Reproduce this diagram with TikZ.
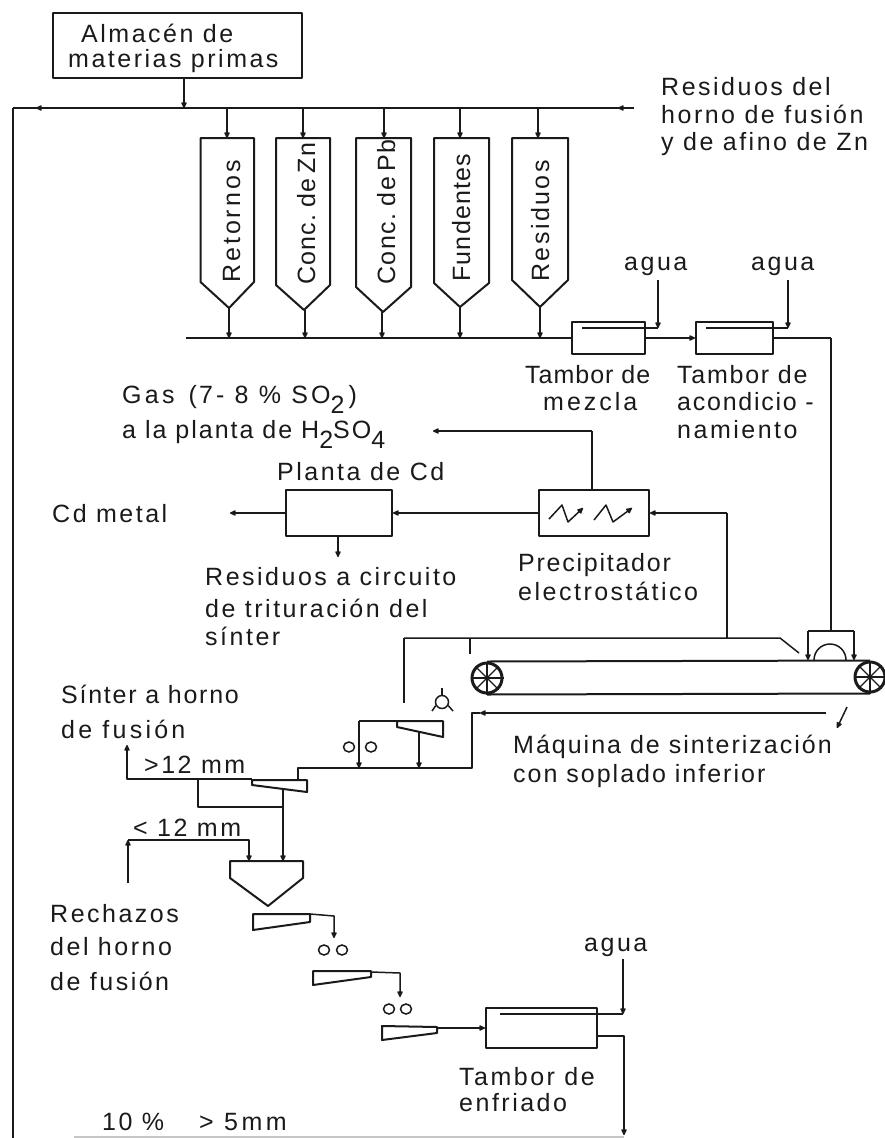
\documentclass[tikz,border=0pt]{standalone}
\usepackage{fontspec}
\setmainfont[LetterSpace=10]{Liberation Sans}
\usetikzlibrary{arrows.meta,shapes.geometric}
\definecolor{ink}{HTML}{1A1A1A}
\newcommand{\subt}[1]{\raisebox{-0.42em}{#1}}
\newcommand{\lsp}[1]{\addfontfeature{LetterSpace=#1}}
\tikzset{
  ln/.style={draw=ink,line width=1.5pt,line join=round},
  fl/.style={ln,-{Latex[length=7.5pt,width=7pt,round]}},
  hv/.style={draw=ink,line width=2pt,line join=round},
  boxn/.style={hv,rectangle,inner sep=0pt},
  txt/.style={anchor=base west,inner sep=0pt,text=ink,font=\fontsize{25}{30}\selectfont},
  vtxt/.style={anchor=base west,inner sep=0pt,text=ink,rotate=90,font=\fontsize{25}{30}\selectfont},
  roll/.style={draw=ink,line width=1.5pt,ellipse,minimum width=11pt,minimum height=10pt,inner sep=0pt},
}
\begin{document}
\begin{tikzpicture}[x=1pt,y=-1pt]
\useasboundingbox (0,0) rectangle (885,1138);
% boxes
\node[boxn,minimum width=249pt,minimum height=65pt] (alm) at (177.5,45.5) {};
\node[boxn,minimum width=73pt,minimum height=32pt] (drA) at (608.5,338) {};
\node[boxn,minimum width=77pt,minimum height=32pt] (drB) at (734.5,338) {};
\node[boxn,minimum width=110pt,minimum height=46pt] (prec) at (594,513) {};
\node[boxn,minimum width=106pt,minimum height=46pt] (cdp) at (339,513) {};
\node[boxn,minimum width=111pt,minimum height=40pt] (drC) at (541.5,1028) {};
% text
\node[txt] (t1) at (81,42) {Almacén de};
\node[txt] (t2) at (68,67) {materias primas};
\node[txt] (t3) at (661,95) {Residuos del};
\node[txt] (t4) at (661,123) {horno de fusión};
\node[txt] (t5) at (661,150) {y de afino de Zn};
\node[txt] (t6) at (624,270) {agua};
\node[txt] (t7) at (751,270) {agua};
\node[vtxt] (v1) at (240,283) {\lsp{12}Retornos};
\node[vtxt] (v2) at (315,285) {\lsp{5}Conc.\hspace{-4pt} de\hspace{-3pt} Zn};
\node[vtxt] (v3) at (395,285) {\lsp{6}Conc.\hspace{-4pt} de\hspace{-3pt} Pb};
\node[vtxt] (v4) at (470,282) {\lsp{5}Fundentes};
\node[vtxt] (v5) at (549,282) {Residuos};
\node[txt] (t8) at (525,383) {\lsp{4}Tambor de};
\node[txt] (t9) at (543,410) {\lsp{12}mezcla};
\node[txt] (t10) at (677,383) {\lsp{7}Tambor de};
\node[txt] (t11) at (677,410) {\lsp{7}acondicio -};
\node[txt] (t12) at (677,438) {\lsp{10}namiento};
\node[txt] (t13) at (122,403) {\lsp{13}Gas\hspace{4pt} (\hspace{2pt}7- 8 \% SO\subt{2}\hspace{4pt})};
\node[txt] (t14) at (122,438) {\lsp{8}a la planta de H\subt{2}SO\subt{4}};
\node[txt] (t15) at (277,480) {Planta de Cd};
\node[txt] (t16) at (52,522) {Cd metal};
\node[txt] (t17) at (205,585) {Residuos a circuito};
\node[txt] (t18) at (205,617) {de trituración del};
\node[txt] (t19) at (205,645) {sínter};
\node[txt] (t20) at (518,571) {\lsp{7}Precipitador};
\node[txt] (t21) at (518,600) {electrostático};
\node[txt] (t22) at (61,703) {\lsp{7}Sínter a horno};
\node[txt] (t23) at (61,738) {\lsp{13}de fusión};
\node[txt] (t24) at (144,773) {>12 mm};
\node[txt] (t25) at (133,836) {< 12 mm};
\node[txt] (t26) at (513,753) {\lsp{8}Máquina de sinterización};
\node[txt] (t27) at (513,782) {\lsp{8}con soplado inferior};
\node[txt] (t28) at (50,922) {Rechazos};
\node[txt] (t29) at (50,955) {del horno};
\node[txt] (t30) at (50,990) {de fusión};
\node[txt] (t31) at (584,951) {agua};
\node[txt] (t32) at (459,1085) {Tambor de};
\node[txt] (t33) at (459,1111) {enfriado};
\node[txt] (t34) at (102,1130) {10 \%};
\node[txt] (t35) at (199,1130) {\lsp{14}> 5mm};
% junctions
\coordinate (mL) at (13,108); \coordinate (mLa) at (36,108); \coordinate (mA) at (184,108);
\coordinate (mRa) at (618,108); \coordinate (mR) at (634,108);
\coordinate (botL) at (13,1138);
% main line
\draw[ln] (mL) -- (mR);
\draw[fl] (mR) -- (mRa);
\draw[fl] (mA) -- (mLa);
\draw[ln] (botL) -- (mL);
\draw[fl] (alm.south -| mA) -- (mA);
% silos
\foreach \n/\l/\r/\s/\tx/\ty/\fx/\ox in {a/200.5/254/282/229/308/227/229,b/276/330/285/304/310/303/305,c/356/411/287/383/312/384/382,d/434/489/283/460/307/460/460,e/512/568/280/540/307/538/540}{
  \draw[hv] (\l,138) -- (\r,138) -- (\r,\s) -- (\tx,\ty) -- (\l,\s) -- cycle;
  \coordinate (in\n) at (\fx,138);
  \coordinate (inT\n) at (\fx,108);
  \coordinate (out\n) at (\ox,\ty);
  \coordinate (outE\n) at (\ox,338);
  \draw[fl] (inT\n) -- (in\n);
  \draw[fl] (out\n) -- (outE\n);
}
% collector
\coordinate (cL) at (186,338);
\draw[ln] (cL) -- (drA.west);
\draw[fl] (drA.east) -- (drB.west);
\coordinate (up) at (831,338);
\draw[ln] (drB.east) -- (up);
% water
\coordinate (wA0) at (658,280); \coordinate (wA1) at (658,328); \coordinate (wAi) at (582,328);
\coordinate (wB0) at (788,280); \coordinate (wB1) at (788,328); \coordinate (wBi) at (706,328);
\draw[fl] (wA0) -- (wA1);
\draw[ln] (wA1) -- (wAi);
\draw[fl] (wB0) -- (wB1);
\draw[ln] (wB1) -- (wBi);
% machine
\coordinate (hoodT) at (831,631);
\draw[ln] (up) -- (hoodT);
\coordinate (hL) at (808,631); \coordinate (hR) at (854,631);
\coordinate (hLb) at (808,660); \coordinate (hRb) at (854,660);
\draw[hv] (hL) -- (hR);
\draw[fl] (hL) -- (hLb);
\draw[fl] (hR) -- (hRb);
\draw[ln] (814,660) arc[start angle=180,end angle=0,radius=16pt];
% belt
\node[draw=ink,line width=3pt,circle,minimum size=30pt,inner sep=0pt] (wl) at (487,678) {};
\node[draw=ink,line width=3pt,circle,minimum size=30pt,inner sep=0pt] (wr) at (870,677) {};
\foreach \w in {wl,wr}{\foreach \a in {0,45,...,315}{\draw[ink,line width=1.3pt] (\w.center) -- (\w.\a);}}
\draw[hv] (wl.north) -- (wr.north);
\draw[hv] (wl.south) -- (wr.south);
% gases
\coordinate (gC) at (727,638); \coordinate (gL) at (404,638); \coordinate (gD) at (780,638);
\coordinate (gE) at (799,653); \coordinate (gT) at (470,638); \coordinate (gTb) at (470,654);
\coordinate (gLb) at (404,703); \coordinate (gU) at (727,513);
\draw[ln] (gL) -- (gD) -- (gE);
\draw[ln] (gT) -- (gTb);
\draw[ln] (gL) -- (gLb);
\draw[ln] (gC) -- (gU);
\draw[fl] (gU) -- (prec.east);
\draw[fl] (prec.west) -- (cdp.east);
\coordinate (cdL) at (230,513);
\draw[fl] (cdp.west) -- (cdL);
\coordinate (cdD) at (338,557);
\draw[fl] (cdp.south -| cdD) -- (cdD);
\coordinate (pU) at (592,431); \coordinate (pL) at (433,431);
\draw[ln] (prec.north -| pU) -- (pU);
\draw[fl] (pU) -- (pL);
% precipitator wires
\draw[fl] (549,519) -- (562,505) -- (568,522) -- (583,508);
\draw[fl] (594,520) -- (606,505) -- (613,522) -- (632,508);
% pointer
\coordinate (pa) at (847,707); \coordinate (pb) at (837,728);
\draw[fl] (pa) -- (pb);
% blower
\node[draw=ink,line width=1.5pt,circle,minimum size=13pt,inner sep=0pt] (blow) at (442,702) {};
\coordinate (blA) at (442,688); \coordinate (blB) at (432,711); \coordinate (blC) at (453,711);
\draw[ln] (blow.north) -- (blA);
\draw[ln] (blow.210) -- (blB);
\draw[ln] (blow.330) -- (blC);
% screen 1 and return
\draw[hv] (397,721) -- (443,721) -- (443,737) -- (397,727) -- cycle;
\coordinate (s1L) at (359,721); \coordinate (s1Lb) at (359,768); \coordinate (s1T) at (397,721);
\draw[ln] (s1T) -- (s1L);
\coordinate (s1D) at (419,732); \coordinate (s1Db) at (419,768);
\draw[fl] (s1L) -- (s1Lb);
\draw[fl] (s1D) -- (s1Db);
\node[roll] (r1a) at (349,747) {};
\node[roll] (r1b) at (371,747) {};
\coordinate (rR) at (826,713); \coordinate (rC) at (472,713); \coordinate (rCa) at (480,713);
\coordinate (rD) at (472,768); \coordinate (rE) at (298,768); \coordinate (rF) at (298,780);
\draw[fl] (rR) -- (rCa);
\draw[ln] (rCa) -- (rC) -- (rD) -- (rE) -- (rF);
% screen 2 (>12)
\draw[hv] (252,780) -- (307,780) -- (307,792) -- (252,785) -- cycle;
\coordinate (gtR) at (252,779); \coordinate (gtL) at (127,779); \coordinate (gtU) at (127,745);
\draw[fl] (gtR) -- (gtL) -- (gtU);
\coordinate (brA) at (198,779); \coordinate (brB) at (198,807); \coordinate (brC) at (283,807);
\coordinate (brD) at (283,789); \coordinate (binIn) at (283,861);
\draw[ln] (brA) -- (brB) -- (brC);
\draw[fl] (brD) -- (binIn);
% bin
\draw[hv] (230,861) -- (303,861) -- (303,878) -- (268,906) -- (230,878) -- cycle;
\coordinate (ltU) at (128,883); \coordinate (ltC) at (128,840); \coordinate (ltR) at (249,840); \coordinate (ltE) at (249,861);
\draw[fl] (ltU) -- (ltC);
\draw[fl] (ltC) -- (ltR) -- (ltE);
% lower screens
\draw[hv] (253,914) -- (310,914) -- (310,922) -- (253,930) -- cycle;
\coordinate (a1) at (310,914); \coordinate (a2) at (334,916); \coordinate (a3) at (334,938);
\draw[fl] (a1) -- (a2) -- (a3);
\node[roll] (r2a) at (324,950) {};
\node[roll] (r2b) at (342,950) {};
\draw[hv] (313,971) -- (371,971) -- (371,977) -- (313,985) -- cycle;
\coordinate (b1) at (371,972); \coordinate (b2) at (400,973); \coordinate (b3) at (400,997);
\draw[fl] (b1) -- (b2) -- (b3);
\node[roll] (r3a) at (389,1009) {};
\node[roll] (r3b) at (406,1009) {};
\draw[hv] (382,1026) -- (437,1027) -- (437,1033) -- (382,1040) -- cycle;
\coordinate (c1) at (437,1028);
\draw[fl] (c1) -- (drC.west |- c1);
% cooling
\coordinate (w0) at (623,959); \coordinate (w1) at (623,1014); \coordinate (wi) at (500,1014);
\draw[fl] (w0) -- (w1);
\draw[ln] (w1) -- (wi);
\coordinate (ex) at (624,1036); \coordinate (exB) at (624,1135);
\draw[fl] (drC.east |- ex) -- (ex) -- (exB);
\coordinate (fb) at (74,1137);
\draw[draw=ink!25,line width=1.5pt] (exB |- fb) -- (fb);
\end{tikzpicture}
\end{document}
